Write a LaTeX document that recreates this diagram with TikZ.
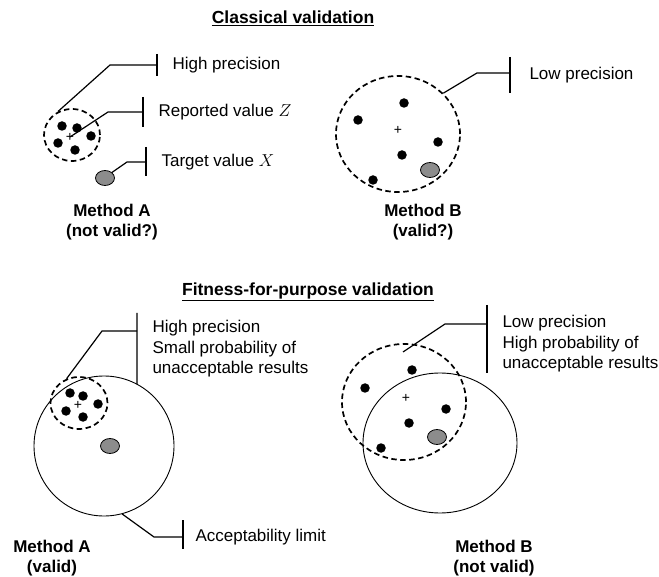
\documentclass[tikz,border=0pt]{standalone}
\usepackage{fontspec}
\setmainfont{Liberation Sans}
\usepackage{tikz}
\usetikzlibrary{shapes.geometric}

\begin{document}
\begin{tikzpicture}[x=1pt, y=-1pt,
dashring/.style={draw, ellipse, dashed, line width=1.7pt, dash pattern=on 5.5pt off 3.5pt, inner sep=0pt},
limitring/.style={draw, ellipse, line width=0.9pt, inner sep=0pt},
dot/.style={circle, fill=black, minimum size=9.5pt, inner sep=0pt},
target/.style={draw, ellipse, fill=black!45, line width=0.8pt, minimum width=19pt, minimum height=15pt, inner sep=0pt},
centre/.style={inner sep=0pt, font=\fontsize{14}{14}\selectfont},
callout/.style={line width=1.2pt},
heading/.style={font=\fontsize{17.5}{20}\selectfont\bfseries},
method/.style={align=center, font=\fontsize{17}{20.5}\selectfont\bfseries}]
\tikzstyle{every node}=[font=\fontsize{17}{20.5}\selectfont]
\useasboundingbox (0,0) rectangle (659,577);

% classical validation
\node[heading] (t1) at (293,18) {\underline{Classical validation}};

\node[dashring, minimum width=56pt, minimum height=52pt] (c1) at (72,135) {};
\node[dot] (d11) at (62,126) {};
\node[dot] (d12) at (77,128) {};
\node[dot] (d13) at (91,136) {};
\node[dot] (d14) at (58,143) {};
\node[dot] (d15) at (75,150) {};
\node[centre] (p1) at (70,137) {+};
\node[target] (g1) at (105,178) {};

\coordinate (k11) at (110,65);
\coordinate (b11) at (157,65);
\draw[callout] (c1.121) -- (k11) -- (b11);
\draw[callout] (157,54) -- (157,76);
\node[anchor=west] (l11) at (169,65) {High precision};
\coordinate (k12) at (108,112);
\coordinate (b12) at (143,112);
\draw[callout] (p1.center) -- (k12) -- (b12);
\draw[callout] (143,97) -- (143,127);
\node[anchor=west] (l12) at (155,112) {Reported value $Z$};
\coordinate (k13) at (127,162);
\coordinate (b13) at (146,162);
\draw[callout] (g1.north east) -- (k13) -- (b13);
\draw[callout] (146,147) -- (146,176);
\node[anchor=west] (l13) at (158,162) {Target value $X$};

\node[method] (m1) at (112,222) {Method A\\(not valid?)};

\node[dashring, minimum width=124pt, minimum height=116pt] (c2) at (398,134) {};
\node[dot] (d21) at (404,103) {};
\node[dot] (d22) at (358,120) {};
\node[dot] (d23) at (438,142) {};
\node[dot] (d24) at (402,155) {};
\node[dot] (d25) at (373,180) {};
\node[centre] (p2) at (398,130) {+};
\node[target] (g2) at (430,170) {};

\coordinate (k21) at (477,73);
\coordinate (b21) at (510,73);
\draw[callout] (c2.42) -- (k21) -- (b21);
\draw[callout] (510,57) -- (510,93);
\node[anchor=west] (l21) at (526,75) {Low precision};

\node[method] (m2) at (423,222) {Method B\\(valid?)};

% fitness-for-purpose validation
\node[heading] (t2) at (308,292) {\underline{Fitness-for-purpose validation}};

\node[limitring, minimum width=140pt, minimum height=140pt] (b3) at (104,446) {};
\node[dashring, minimum width=57pt, minimum height=52pt] (c3) at (79,403) {};
\node[dot] (d31) at (70,393) {};
\node[dot] (d32) at (83,396) {};
\node[dot] (d33) at (98,404) {};
\node[dot] (d34) at (66,411) {};
\node[dot] (d35) at (83,417) {};
\node[centre] (p3) at (78,405) {+};
\node[target] (g3) at (110,446) {};

\coordinate (k31) at (102,331);
\coordinate (b31) at (137,331);
\draw[callout] (c3.117) -- (k31) -- (b31);
\draw[callout] (137,313) -- (b3.62);
\node[anchor=west, align=left] (l31) at (149,349) {High precision\\Small probability of\\unacceptable results};
\coordinate (k32) at (154,537);
\coordinate (b32) at (183,537);
\draw[callout] (b3.-75) -- (k32) -- (b32);
\draw[callout] (183,520) -- (183,549);
\node[anchor=west] (l32) at (192,537) {Acceptability limit};

\node[method] (m3) at (52,558) {Method A\\(valid)};

\node[limitring, minimum width=154pt, minimum height=140pt] (b4) at (440,443) {};
\node[dashring, minimum width=124pt, minimum height=116pt] (c4) at (404,402) {};
\node[dot] (d41) at (412,370) {};
\node[dot] (d42) at (365,388) {};
\node[dot] (d43) at (446,409) {};
\node[dot] (d44) at (409,423) {};
\node[dot] (d45) at (381,448) {};
\node[centre] (p4) at (406,398) {+};
\node[target] (g4) at (437,437) {};

\coordinate (s41) at (403,352);
\coordinate (k41) at (445,324);
\coordinate (b41) at (487,324);
\draw[callout] (s41) -- (k41) -- (b41);
\draw[callout] (487,305) -- (487,373);
\node[anchor=west, align=left] (l41) at (499,344) {Low precision\\High probability of\\unacceptable results};

\node[method] (m4) at (494,558) {Method B\\(not valid)};
\end{tikzpicture}
\end{document}
